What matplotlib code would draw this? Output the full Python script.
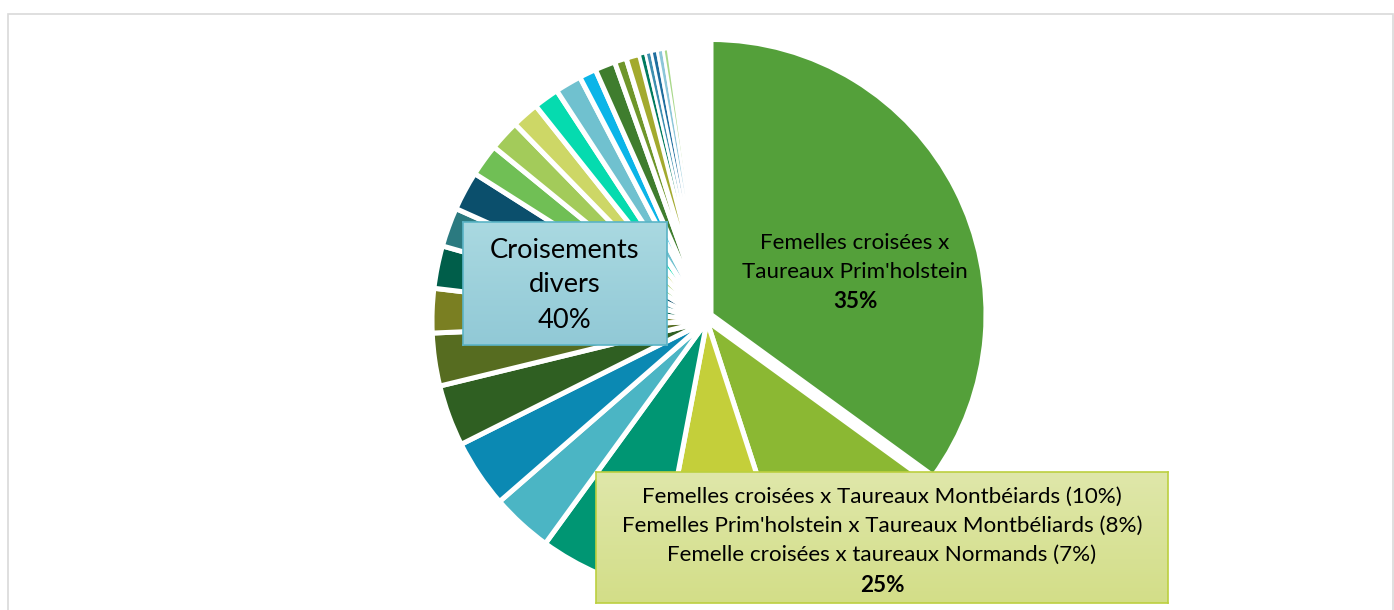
import numpy as np
import matplotlib.pyplot as plt
from matplotlib.patches import Rectangle

# slice shares (%), clockwise from 12 o'clock
main_shares = [35, 10, 8, 7]
main_colors = ['#54A03A', '#8BB833', '#C4CF3A', '#009673']

other_shares = [3.6, 4.0, 3.6, 3.1, 2.6, 2.5, 2.3, 2.3, 1.9, 1.8, 1.6, 1.5, 1.55,
                1.0, 1.2, 0.7, 0.8]
other_colors = ['#4BB5C4', '#0B89B3', '#2F5F22', '#566C20', '#7A7F22', '#005E4A',
                '#2B7A80', '#0B4F6C', '#70BF55', '#A3CB5A', '#CDD766', '#05DBAF',
                '#70C1CF', '#0BB5E8', '#3F7D2E', '#6F962A', '#A3AA2E']
# very thin slices near the top
small_shares = [0.35, 0.35, 0.35, 0.35, 0.35]
small_colors = ['#007A5E', '#3E8FB0', '#1F6E9E', '#8CC6D8', '#A8D88A']
# tiniest categories, hidden by the white borders
tiny_shares = [0.2] * 11
tiny_colors = ['#9CCB6A', '#4E9BB5', '#7FB648', '#5FA8C0', '#B5C95A', '#3F8FA0',
               '#8CB84A', '#6BB3C7', '#A0C45C', '#4C96AC', '#92C25A']

label_big = ["Femelles croisées x", "Taureaux Prim'holstein", "35%"]
label_divers = ["Croisements", "divers", "40%"]
label_group = ["Femelles croisées x Taureaux Montbéiards (10%)",
               "Femelles Prim'holstein x Taureaux Montbéliards (8%)",
               "Femelle croisées x taureaux Normands (7%)",
               "25%"]

shares = main_shares + other_shares + small_shares + tiny_shares
colors = main_colors + other_colors + small_colors + tiny_colors

W, H = 1394, 610
fig = plt.figure(figsize=(W / 100, H / 100), dpi=100)

# pixel helpers (y measured from top)
def fx(x):
    return x / W

def fy(y):
    return 1 - y / H

# pie axes covering the whole figure, 1 data unit = pie radius
R = 275
cx, cy = 707, 321
ax = fig.add_axes([0, 0, 1, 1])
wedges, _ = ax.pie(shares, colors=colors, startangle=90, counterclock=False,
                   wedgeprops=dict(edgecolor='white', linewidth=3.6))
# pull the biggest slice out a little
wedges[0].set_center((4 / R, 6.5 / R))
n0 = len(main_shares) + len(other_shares)
for w in wedges[n0:n0 + len(small_shares)]:
    w.set_linewidth(2.0)
ax.set_xlim(-cx / R, (W - cx) / R)
ax.set_ylim(-(H - cy) / R, cy / R)
ax.set_aspect('auto')
ax.axis('off')

# outer chart border
fig.patches.append(Rectangle((fx(7.5), -0.2), fx(1385), 1.2 - 13.5 / H,
                             transform=fig.transFigure, fill=False,
                             edgecolor='#D9D9D9', linewidth=1.2))

font = 'Lato'

# label on the big slice
for i, (t, y) in enumerate(zip(label_big, [243, 272, 301])):
    fig.text(fx(855), fy(y), t, ha='center', va='center', fontsize=16.1,
             family=font, fontweight='bold' if i == 2 else 'normal')


def grad_box(x0, y0, x1, y1, c_top, c_bot, edge):
    bax = fig.add_axes([fx(x0), fy(y1), fx(x1 - x0), (y1 - y0) / H])
    top = np.array([int(c_top[i:i + 2], 16) for i in (1, 3, 5)]) / 255
    bot = np.array([int(c_bot[i:i + 2], 16) for i in (1, 3, 5)]) / 255
    t = np.linspace(0, 1, 100)[:, None]
    img = top[None, :] * (1 - t) + bot[None, :] * t
    bax.imshow(img[:, None, :], aspect='auto', extent=[0, 1, 0, 1])
    bax.set_xticks([])
    bax.set_yticks([])
    for s in bax.spines.values():
        s.set_color(edge)
        s.set_linewidth(1.2)
    return bax


grad_box(463, 222, 667, 345, '#AAD9E1', '#91C9D6', '#5AB4C6')
for t, y in zip(label_divers, [251, 285, 321]):
    fig.text(fx(565), fy(y), t, ha='center', va='center', fontsize=19.6, family=font)

grad_box(596, 472, 1168, 603, '#DFE7AA', '#D3DE88', '#BCD040')
for i, (t, y) in enumerate(zip(label_group, [497, 526, 555, 585])):
    fig.text(fx(882), fy(y), t, ha='center', va='center', fontsize=16.1,
             family=font, fontweight='bold' if i == 3 else 'normal')

plt.savefig('out.png', dpi=100)
